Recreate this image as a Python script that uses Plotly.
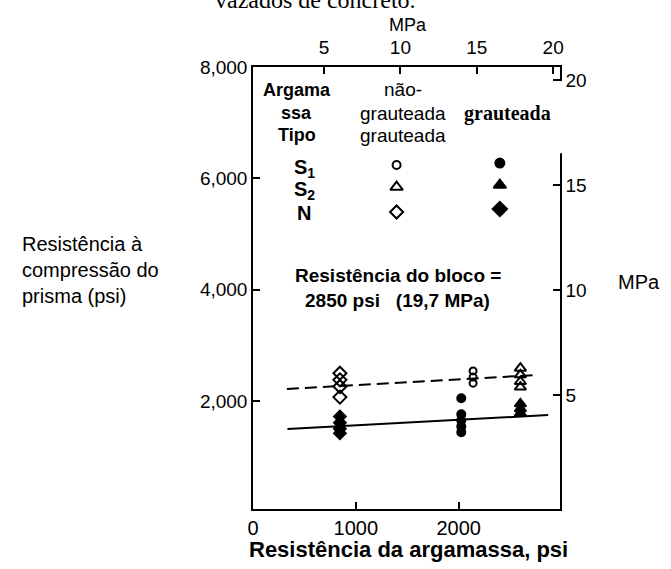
import plotly.graph_objects as go

# ---------------- data ----------------
x_ticks_psi = [0, 1000, 2000, 3000]
x_ticklabels_psi = ["0", "1000", "2000", "3000"]
y_ticks_psi = [2000, 4000, 6000, 8000]
y_ticklabels_psi = ["2,000", "4,000", "6,000", "8,000"]
mpa_ticks = [5, 10, 15, 20]
mpa_ticklabels = ["5", "10", "15", "20"]

# mortar N (diamonds)
n_open_x = [845, 845, 845, 845]
n_open_y = [2500, 2380, 2260, 2070]
n_fill_x = [845, 845, 845, 845]
n_fill_y = [1720, 1610, 1500, 1420]
# mortar S1 (circles)
s1_open_x = [2140, 2140, 2140]
s1_open_y = [2540, 2430, 2320]
s1_fill_x = [2025, 2025, 2025, 2025, 2025]
s1_fill_y = [2050, 1760, 1650, 1540, 1440]
# mortar S2 (triangles)
s2_open_x = [2600, 2600, 2600, 2600]
s2_open_y = [2590, 2470, 2350, 2250]
s2_fill_x = [2600, 2600, 2600]
s2_fill_y = [1950, 1860, 1780]

# trend lines
ungrouted_line_x = [330, 2760]
ungrouted_line_y = [2216, 2467]
grouted_line_x = [335, 2870]
grouted_line_y = [1497, 1749]

# legend key markers
key_open_x = [1396, 1396, 1396]
key_fill_x = [2400, 2400, 2400]
key_open_y = [6239, 5844, 5395]
key_fill_y = [6275, 5880, 5449]
key_symbols_open = ["circle-open", "triangle-up-open", "diamond-open"]
key_symbols_fill = ["circle", "triangle-up", "diamond"]

FONT = "Arial, Liberation Sans, sans-serif"
SERIF = "Times New Roman, Liberation Serif, serif"

fig = go.Figure()

# lines
fig.add_trace(go.Scatter(x=ungrouted_line_x, y=ungrouted_line_y, mode="lines",
                         line=dict(color="black", width=2, dash="12px,6px"),
                         showlegend=False, hoverinfo="skip"))
fig.add_trace(go.Scatter(x=grouted_line_x, y=grouted_line_y, mode="lines",
                         line=dict(color="black", width=2),
                         showlegend=False, hoverinfo="skip"))

def pts(x, y, symbol, size):
    fig.add_trace(go.Scatter(x=x, y=y, mode="markers",
                             marker=dict(symbol=symbol, size=size, color="black",
                                         line=dict(color="black", width=2)),
                             showlegend=False))

pts(n_open_x, n_open_y, "diamond-open", 10)
pts(n_fill_x, n_fill_y, "diamond", 9)
pts(s1_open_x, s1_open_y, "circle-open", 7)
pts(s1_fill_x, s1_fill_y, "circle", 8)
pts(s2_open_x, s2_open_y, "triangle-up-open", 10)
pts(s2_fill_x, s2_fill_y, "triangle-up", 10)

# legend keys
key_open_sizes = [8, 11, 10]
key_fill_sizes = [9, 11, 11]
for xx, yy, s, sz in zip(key_open_x, key_open_y, key_symbols_open, key_open_sizes):
    pts([xx], [yy], s, sz)
for xx, yy, s, sz in zip(key_fill_x, key_fill_y, key_symbols_fill, key_fill_sizes):
    pts([xx], [yy], s, sz)

# dummy trace for secondary axes
fig.add_trace(go.Scatter(x=[10], y=[10], xaxis="x2", yaxis="y2", mode="markers",
                         marker=dict(opacity=0), showlegend=False, hoverinfo="skip"))

# ---------------- annotations ----------------
ann = []
def t(text, x, y, size=19, bold=False, family=FONT, xref="x", yref="y",
      xanchor="center", align="center"):
    if bold:
        text = "<b>" + text + "</b>"
    ann.append(dict(text=text, x=x, y=y, xref=xref, yref=yref, showarrow=False,
                    xanchor=xanchor, yanchor="middle", align=align,
                    font=dict(family=family, size=size, color="black")))

t("Argama", 423, 7587, 18, True)
t("ssa", 423, 7173, 18, True)
t("Tipo", 423, 6778, 18, True)
t("não-", 1455, 7587, 19)
t("grauteada", 1455, 7173, 19)
t("grauteada", 1455, 6778, 19)
t("grauteada", 2477, 7173, 20, True, SERIF)
t("S<sub>1</sub>", 500, 6185, 20, True)
t("S<sub>2</sub>", 500, 5790, 20, True)
t("N", 500, 5377, 20, True)
t("Resistência do bloco =", 1406, 4263, 19, True)
t("2850 psi   (19,7 MPa)", 1406, 3814, 19, True)

t("Resistência à<br>compressão do<br>prisma (psi)", -0.759, 0.541, 20,
  xref="paper", yref="paper", xanchor="left", align="left")
t("MPa", 1.257, 0.514, 20, xref="paper", yref="paper")
t("Resistência da argamassa, psi", 0.505, -0.0905, 22, True,
  xref="paper", yref="paper")
t("MPa", 0.505, 1.095, 18, xref="paper", yref="paper")
t("vazados de concreto.", 0.202, 1.151, 24, family=SERIF,
  xref="paper", yref="paper")

axis_common = dict(showgrid=False, zeroline=False, showline=True,
                   linecolor="black", linewidth=1.5, ticks="inside",
                   ticklen=7, tickwidth=1.5, tickcolor="black")

fig.update_layout(
    width=671, height=569,
    margin=dict(l=253, r=111, t=67, b=60),
    paper_bgcolor="white", plot_bgcolor="white",
    showlegend=False,
    annotations=ann,
    shapes=[dict(type="rect", xref="paper", yref="paper", x0=0.985, x1=1.015,
                 y0=0.805, y1=0.968, fillcolor="white", line=dict(width=0),
                 layer="above")],
    xaxis=dict(range=[0, 2985], tickvals=x_ticks_psi, ticktext=x_ticklabels_psi,
               tickfont=dict(family=FONT, size=20, color="black"),
               **axis_common),
    yaxis=dict(range=[60, 8000], tickvals=y_ticks_psi, ticktext=y_ticklabels_psi,
               tickfont=dict(family=FONT, size=19, color="black"),
               **axis_common),
    xaxis2=dict(range=[0.35, 20.45], overlaying="x", side="top", anchor="y",
                tickvals=mpa_ticks, ticktext=mpa_ticklabels,
                tickfont=dict(family=FONT, size=19, color="black"),
                ticklabelstandoff=4, **axis_common),
    yaxis2=dict(range=[-0.43, 20.62], overlaying="y", side="right", anchor="x",
                tickvals=mpa_ticks, ticktext=mpa_ticklabels,
                tickfont=dict(family=FONT, size=19, color="black"),
                **axis_common),
)

fig.write_html("out.html", config={"displayModeBar": False},
               post_script="document.body.style.margin='0';")
